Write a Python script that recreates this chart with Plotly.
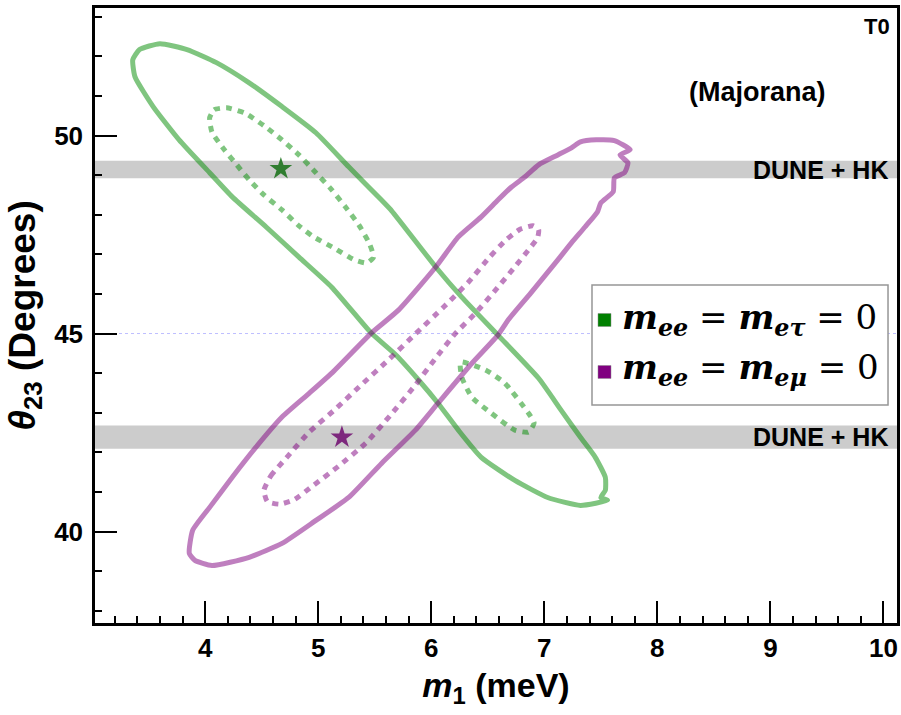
import plotly.graph_objects as go

# ---------------- data ----------------
# m_ee = m_e_tau = 0 : outer (solid) contour
green_outer_m1 = [3.42, 3.60, 3.84, 4.10, 4.39, 4.68, 4.98, 5.27, 5.56, 5.65, 6.04, 6.27, 6.59, 6.95,
                  7.15, 7.32, 7.45, 7.54, 7.54, 7.50, 7.56, 7.32, 7.03, 6.74, 6.44, 6.24, 6.06, 5.89,
                  5.69, 5.47, 5.12, 4.83, 4.54, 4.24, 4.04, 3.77, 3.54, 3.38, 3.36, 3.42]
green_outer_th = [52.17, 52.32, 52.17, 51.84, 51.33, 50.73, 50.07, 49.21, 48.37, 48.10, 46.68, 45.92, 44.96, 43.87,
                  43.06, 42.38, 41.88, 41.37, 41.04, 40.86, 40.79, 40.66, 40.86, 41.29, 41.88, 42.56, 43.24, 43.82,
                  44.45, 45.01, 46.17, 46.93, 47.69, 48.45, 49.06, 49.89, 50.73, 51.48, 51.91, 52.17]

# m_ee = m_e_tau = 0 : inner (dotted) contours
green_inner1_m1 = [4.04, 4.08, 4.19, 4.35, 4.52, 4.68, 4.83, 4.98, 5.12, 5.24, 5.36, 5.45, 5.49, 5.43,
                   5.32, 5.14, 4.96, 4.83, 4.68, 4.52, 4.39, 4.28, 4.17, 4.06, 4.04]
green_inner1_th = [50.45, 50.65, 50.70, 50.57, 50.25, 49.89, 49.51, 49.06, 48.63, 48.20, 47.74, 47.29, 46.93, 46.78,
                   46.86, 47.16, 47.44, 47.72, 48.12, 48.50, 48.88, 49.26, 49.64, 50.09, 50.45]
green_inner2_m1 = [6.26, 6.48, 6.65, 6.86, 6.91, 6.86, 6.74, 6.53, 6.36, 6.27, 6.26]
green_inner2_th = [44.28, 44.08, 43.75, 42.99, 42.74, 42.51, 42.56, 42.99, 43.39, 43.90, 44.28]

# m_ee = m_e_mu = 0 : outer (solid) contour
purple_outer_m1 = [3.86, 3.89, 4.04, 4.24, 4.45, 4.68, 4.92, 5.12, 5.47, 5.71, 6.04, 6.24, 6.44, 6.59,
                   6.71, 6.83, 6.95, 7.12, 7.24, 7.32, 7.46, 7.62, 7.76, 7.67, 7.74, 7.71, 7.62, 7.61,
                   7.50, 7.47, 7.36, 7.24, 7.12, 6.88, 6.68, 6.59, 6.36, 6.06, 5.86, 5.56, 5.27, 4.98,
                   4.68, 4.39, 4.06, 3.91, 3.86]
purple_outer_th = [39.45, 40.03, 40.61, 41.37, 42.13, 42.89, 43.49, 44.00, 45.01, 45.59, 46.68, 47.44, 47.94, 48.37,
                   48.70, 48.96, 49.26, 49.51, 49.69, 49.84, 49.89, 49.87, 49.64, 49.51, 49.31, 49.06, 48.93, 48.58,
                   48.30, 48.07, 47.69, 47.29, 46.86, 46.02, 45.34, 44.96, 44.25, 43.24, 42.56, 41.72, 40.86, 40.28,
                   39.70, 39.35, 39.14, 39.27, 39.45]

# m_ee = m_e_mu = 0 : inner (dotted) contour
purple_inner_m1 = [4.52, 4.58, 4.74, 4.92, 5.16, 5.38, 5.62, 5.86, 6.11, 6.33, 6.51, 6.66, 6.79, 6.90, 6.95,
                   6.94, 6.86, 6.73, 6.57, 6.40, 6.21, 6.04, 5.86, 5.64, 5.42, 5.18, 4.96, 4.79, 4.66,
                   4.55, 4.52]
purple_inner_th = [41.04, 41.40, 41.93, 42.51, 43.11, 43.70, 44.33, 44.99, 45.67, 46.30, 46.91, 47.36, 47.64, 47.72, 47.62,
                   47.41, 47.11, 46.65, 46.10, 45.54, 44.99, 44.38, 43.70, 42.94, 42.23, 41.65, 41.17, 40.81, 40.69,
                   40.76, 41.04]

# best-fit points
green_best = (4.67, 49.16)
purple_best = (5.21, 42.38)

# DUNE + HK bands (theta23 ranges)
band_upper = (48.92, 49.36)
band_lower = (42.09, 42.68)
maximal_mixing = 45

x_range = [3.026, 10.12]
y_range = [37.69, 53.22]
x_ticks = [4, 5, 6, 7, 8, 9, 10]
y_ticks = [40, 45, 50]

legend_labels = [
    "<b><i>m</i></b><sub><b><i>ee</i></b></sub> = <b><i>m</i></b><sub><b><i>eτ</i></b></sub> = 0",
    "<b><i>m</i></b><sub><b><i>ee</i></b></sub> = <b><i>m</i></b><sub><b><i>eμ</i></b></sub> = 0",
]

# ---------------- styling ----------------
GREEN_LINE = "rgba(0,140,0,0.5)"
PURPLE_LINE = "rgba(128,0,128,0.5)"
GREEN_STAR = "rgba(20,110,20,0.85)"
PURPLE_STAR = "rgba(110,10,110,0.85)"
SANS = "Liberation Sans"

fig = go.Figure()

def contour(xs, ys, color, dash):
    fig.add_trace(go.Scatter(x=xs, y=ys, mode="lines",
                             line=dict(color=color, width=5, dash=dash, shape="spline", smoothing=0.5),
                             showlegend=False, hoverinfo="skip"))

DOTS = "6px,6px"
contour(green_outer_m1, green_outer_th, GREEN_LINE, "solid")
contour(green_inner1_m1, green_inner1_th, GREEN_LINE, DOTS)
contour(green_inner2_m1, green_inner2_th, GREEN_LINE, DOTS)
contour(purple_outer_m1, purple_outer_th, PURPLE_LINE, "solid")
contour(purple_inner_m1, purple_inner_th, PURPLE_LINE, DOTS)

fig.add_trace(go.Scatter(x=[green_best[0]], y=[green_best[1]], mode="markers",
                         marker=dict(symbol="star", size=17, color=GREEN_STAR, line=dict(width=0)),
                         showlegend=False))
fig.add_trace(go.Scatter(x=[purple_best[0]], y=[purple_best[1]], mode="markers",
                         marker=dict(symbol="star", size=17, color=PURPLE_STAR, line=dict(width=0)),
                         showlegend=False))

shapes = []
for b in (band_upper, band_lower):
    shapes.append(dict(type="rect", xref="paper", yref="y", x0=0, x1=1, y0=b[0], y1=b[1],
                       fillcolor="#cccccc", line=dict(width=0), layer="below"))
shapes.append(dict(type="line", xref="paper", yref="y", x0=0, x1=1, y0=maximal_mixing, y1=maximal_mixing,
                   line=dict(color="rgb(190,190,255)", width=1, dash="dot"), layer="below"))

# legend box
shapes.append(dict(type="rect", xref="paper", yref="paper", x0=0.6197, x1=0.9888, y0=0.3545, y1=0.5496,
                   fillcolor="white", line=dict(color="rgb(150,150,150)", width=1.5), layer="above"))
shapes.append(dict(type="rect", xref="paper", yref="paper", x0=0.6272, x1=0.6434, y0=0.4821, y1=0.5033,
                   fillcolor="#008000", line=dict(color="#888888", width=0.5), layer="above"))
shapes.append(dict(type="rect", xref="paper", yref="paper", x0=0.6272, x1=0.6434, y0=0.3976, y1=0.4187,
                   fillcolor="#800080", line=dict(color="#888888", width=0.5), layer="above"))

annotations = [
    dict(text="<b>T0</b>", xref="paper", yref="paper", x=0.9935, y=0.994, xanchor="right", yanchor="top",
         showarrow=False, font=dict(family=SANS, size=22, color="black")),
    dict(text="<b>(Majorana)</b>", xref="paper", yref="paper", x=0.826, y=0.863, xanchor="center", yanchor="middle",
         showarrow=False, font=dict(family=SANS, size=27, color="black")),
    dict(text="<b>DUNE + HK</b>", xref="paper", yref="y", x=0.991, y=sum(band_upper) / 2, xanchor="right",
         yanchor="middle", showarrow=False, font=dict(family=SANS, size=25, color="black")),
    dict(text="<b>DUNE + HK</b>", xref="paper", yref="y", x=0.991, y=sum(band_lower) / 2, xanchor="right",
         yanchor="middle", showarrow=False, font=dict(family=SANS, size=25, color="black")),
    dict(text=legend_labels[0], xref="paper", yref="paper", x=0.6546, y=0.4927, xanchor="left", yanchor="middle",
         showarrow=False, font=dict(family="DejaVu Serif", size=34, color="black")),
    dict(text=legend_labels[1], xref="paper", yref="paper", x=0.6546, y=0.4114, xanchor="left", yanchor="middle",
         showarrow=False, font=dict(family="DejaVu Serif", size=34, color="black")),
]

axis_common = dict(showline=True, mirror=True, linecolor="black", linewidth=2.5, showgrid=False, zeroline=False,
                   ticks="inside", ticklen=22, tickwidth=2, tickcolor="black",
                   tickfont=dict(family=SANS, size=26, color="black", weight="bold"))

fig.update_xaxes(range=x_range, tickvals=x_ticks, ticklabelstandoff=0,
                 minor=dict(ticks="inside", ticklen=7, tickwidth=2, tickcolor="black", dtick=0.2, tick0=0),
                 title=dict(text="<i>m</i><sub>1</sub> (meV)", standoff=12,
                            font=dict(family=SANS, size=34, color="black", weight="bold")),
                 **axis_common)
fig.update_yaxes(range=y_range, tickvals=y_ticks, ticklabelstandoff=4,
                 minor=dict(ticks="inside", ticklen=7, tickwidth=2, tickcolor="black", dtick=1, tick0=0),
                 title=dict(text="<i>θ</i><sub>23</sub> (Degrees)", standoff=8,
                            font=dict(family=SANS, size=37, color="black", weight="bold")),
                 **axis_common)

fig.update_layout(width=901, height=715, margin=dict(l=95, r=4, t=8, b=92, autoexpand=False),
                  plot_bgcolor="white", paper_bgcolor="white", shapes=shapes, annotations=annotations,
                  showlegend=False)

fig.write_html("out.html", config={"displayModeBar": False},
               post_script="document.body.style.margin='0px';document.body.style.overflow='hidden';")
